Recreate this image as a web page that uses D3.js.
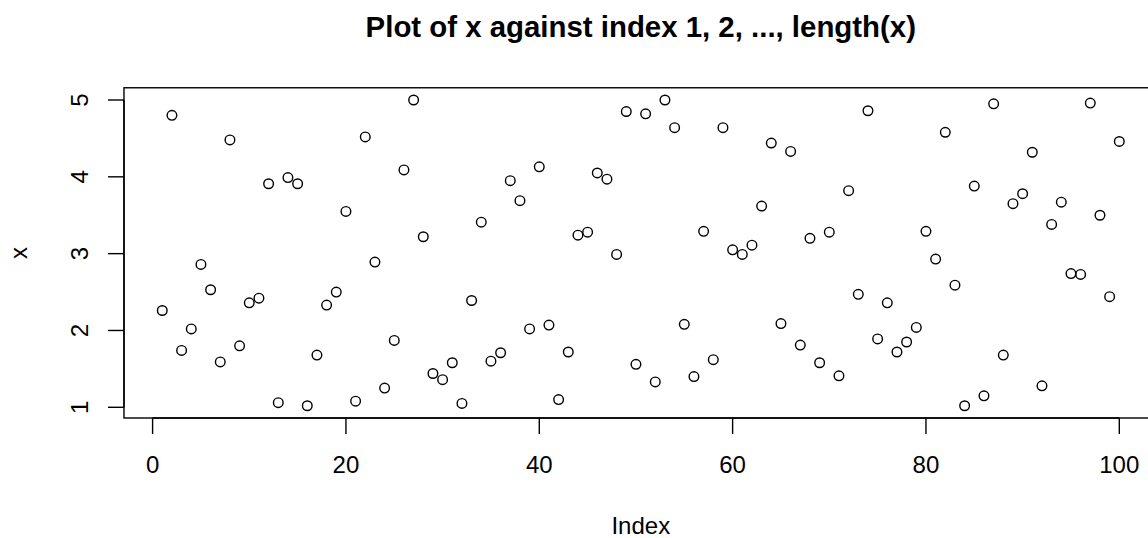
<!DOCTYPE html>
<html>
<head>
<meta charset="utf-8">
<script src="https://cdn.jsdelivr.net/npm/d3@7"></script>
<style>
  html, body { margin: 0; padding: 0; background: #fff; }
  svg { display: block; font-family: "Liberation Sans", Arial, sans-serif; }
</style>
</head>
<body>
<svg id="chart" width="1148" height="538"></svg>
<script>
// Values of x, in index order 1..100
const xValues = [
  2.26, 4.80, 1.74, 2.02, 2.86, 2.53, 1.59, 4.48, 1.80, 2.36,
  2.42, 3.91, 1.06, 3.99, 3.91, 1.02, 1.68, 2.33, 2.50, 3.55,
  1.08, 4.52, 2.89, 1.25, 1.87, 4.09, 5.00, 3.22, 1.44, 1.36,
  1.58, 1.05, 2.39, 3.41, 1.60, 1.71, 3.95, 3.69, 2.02, 4.13,
  2.07, 1.10, 1.72, 3.24, 3.28, 4.05, 3.97, 2.99, 4.85, 1.56,
  4.82, 1.33, 5.00, 4.64, 2.08, 1.40, 3.29, 1.62, 4.64, 3.05,
  2.99, 3.11, 3.62, 4.44, 2.09, 4.33, 1.81, 3.20, 1.58, 3.28,
  1.41, 3.82, 2.47, 4.86, 1.89, 2.36, 1.72, 1.85, 2.04, 3.29,
  2.93, 4.58, 2.59, 1.02, 3.88, 1.15, 4.95, 1.68, 3.65, 3.78,
  4.32, 1.28, 3.38, 3.67, 2.74, 2.73, 4.96, 3.50, 2.44, 4.46
];
const indexValues = xValues.map((_, i) => i + 1);

const xTicks = [0, 20, 40, 60, 80, 100];
const yTicks = [1, 2, 3, 4, 5];

const titleText = "Plot of x against index 1, 2, ..., length(x)";
const xLabel = "Index";
const yLabel = "x";

const svg = d3.select("#chart");

// R-style extended ranges (4% padding on each side)
const xExt = d3.extent(indexValues);
const xPad = (xExt[1] - xExt[0]) * 0.04;
const yExt = d3.extent(xValues);
const yPad = (yExt[1] - yExt[0]) * 0.04;

const x = d3.scaleLinear().domain([0, 100]).range([152.6, 1119.3]);
const y = d3.scaleLinear().domain([1, 5]).range([407.3, 100]);

const boxLeft = x(xExt[0] - xPad), boxRight = x(xExt[1] + xPad);
const boxTop = y(yExt[1] + yPad), boxBottom = y(yExt[0] - yPad);

const ink = "#000";
const baseSize = 24;

// plot box
svg.append("rect")
  .attr("x", boxLeft).attr("y", boxTop)
  .attr("width", boxRight - boxLeft).attr("height", boxBottom - boxTop)
  .attr("fill", "none").attr("stroke", ink).attr("stroke-width", 1.4);

// bottom axis
const gx = svg.append("g").attr("transform", `translate(0,${boxBottom})`);
gx.append("line")
  .attr("x1", x(xTicks[0])).attr("x2", x(xTicks[xTicks.length - 1]))
  .attr("stroke", ink).attr("stroke-width", 1.4);
gx.selectAll("line.tick").data(xTicks).join("line")
  .attr("class", "tick")
  .attr("x1", d => x(d)).attr("x2", d => x(d))
  .attr("y1", 0).attr("y2", 16)
  .attr("stroke", ink).attr("stroke-width", 1.4);
gx.selectAll("text").data(xTicks).join("text")
  .attr("x", d => x(d)).attr("y", 55.5)
  .attr("text-anchor", "middle")
  .attr("font-size", baseSize)
  .attr("fill", ink)
  .text(d => d);

// left axis
const gy = svg.append("g").attr("transform", `translate(${boxLeft},0)`);
gy.append("line")
  .attr("y1", y(yTicks[0])).attr("y2", y(yTicks[yTicks.length - 1]))
  .attr("stroke", ink).attr("stroke-width", 1.4);
gy.selectAll("line.tick").data(yTicks).join("line")
  .attr("class", "tick")
  .attr("y1", d => y(d)).attr("y2", d => y(d))
  .attr("x1", 0).attr("x2", -16)
  .attr("stroke", ink).attr("stroke-width", 1.4);
gy.selectAll("text").data(yTicks).join("text")
  .attr("transform", d => `translate(-36,${y(d)}) rotate(-90)`)
  .attr("text-anchor", "middle")
  .attr("font-size", baseSize)
  .attr("fill", ink)
  .text(d => d);

// points
svg.append("g").selectAll("circle").data(indexValues).join("circle")
  .attr("cx", (d) => x(d))
  .attr("cy", (d, i) => y(xValues[i]))
  .attr("r", 4.8)
  .attr("fill", "none")
  .attr("stroke", ink)
  .attr("stroke-width", 1.4);

// title and axis labels
svg.append("text")
  .attr("x", (boxLeft + boxRight) / 2).attr("y", 36.5)
  .attr("text-anchor", "middle")
  .attr("font-size", 29.4)
  .attr("font-weight", "bold")
  .attr("fill", ink)
  .text(titleText);

svg.append("text")
  .attr("x", (boxLeft + boxRight) / 2).attr("y", 534)
  .attr("text-anchor", "middle")
  .attr("font-size", baseSize)
  .attr("fill", ink)
  .text(xLabel);

svg.append("text")
  .attr("transform", `translate(27,${(boxTop + boxBottom) / 2}) rotate(-90)`)
  .attr("text-anchor", "middle")
  .attr("font-size", baseSize)
  .attr("fill", ink)
  .text(yLabel);
</script>
</body>
</html>
